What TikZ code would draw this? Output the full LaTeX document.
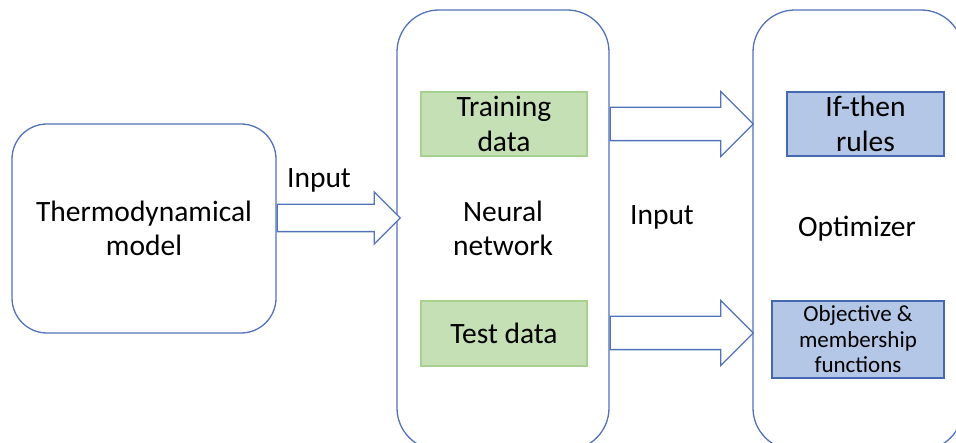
\documentclass[tikz,border=0pt]{standalone}
\usepackage{fontspec}
\setmainfont{Carlito}
\usetikzlibrary{shapes.arrows}
\definecolor{edgeblue}{RGB}{82,114,186}
\definecolor{greenfill}{HTML}{C5E0B4}
\definecolor{greenedge}{HTML}{A9D18E}
\definecolor{bluefill}{HTML}{B4C7E7}
\definecolor{blueedge}{RGB}{70,104,176}
\tikzset{
  bigbox/.style={draw=edgeblue, line width=1.3pt, fill=white, align=center,
    inner sep=0pt, font=\fontsize{29.5}{34}\selectfont},
  greenbox/.style={draw=greenedge, line width=1.2pt, fill=greenfill, align=center,
    inner sep=0pt, font=\fontsize{29.5}{35}\selectfont},
  bluebox/.style={draw=blueedge, line width=1.2pt, fill=bluefill, align=center,
    inner sep=0pt},
  label/.style={inner sep=0pt, align=center, font=\fontsize{29.5}{34}\selectfont},
  blockarrow/.style={single arrow, draw=edgeblue, line width=1.3pt, fill=white,
    inner xsep=0pt, single arrow tip angle=90, anchor=tail},
}
\begin{document}
\begin{tikzpicture}[x=1pt, y=-1pt]
  \useasboundingbox (0,0) rectangle (956,443);
  \clip (0,0) rectangle (956,443);

  % main stages
  \node[bigbox, minimum width=264pt, minimum height=209pt, rounded corners=35pt]
    (thermo) at (144,228.5) {Thermodynamical\\model};
  \node[bigbox, minimum width=212pt, minimum height=440pt, rounded corners=42pt]
    (nn) at (503,230) {};
  \node[bigbox, minimum width=210pt, minimum height=440pt, rounded corners=42pt]
    (opt) at (858,230) {};

  % inner data blocks
  \node[greenbox, minimum width=166pt, minimum height=64pt] (train) at (504,124) {Training\\data};
  \node[greenbox, minimum width=166pt, minimum height=65pt] (test) at (504,333.5) {Test data};
  \node[bluebox, minimum width=157pt, minimum height=64pt, font=\fontsize{29.5}{35}\selectfont]
    (rules) at (865.5,124) {If-then\\rules};
  \node[bluebox, minimum width=172pt, minimum height=77pt, font=\fontsize{23}{25.5}\selectfont]
    (obj) at (858,339.5) {Objective \&\\membership\\functions};

  % stage captions
  \node[label] (nnlabel) at (503,228) {Neural\\network};
  \node[label] (optlabel) at (857,229) {Optimizer};
  \node[label] (in1) at (319,180) {Input};
  \node[label] (in2) at (662,217) {Input};

  % block arrows between the stages
  \node[blockarrow, inner ysep=13pt, minimum height=123pt, minimum width=51pt,
    single arrow head extend=12.5pt] (a1) at (thermo.east |- 0,218) {};
  \node[blockarrow, inner ysep=16pt, minimum height=143pt, minimum width=64pt,
    single arrow head extend=16pt] (a2) at (nn.east |- train.center) {};
  \node[blockarrow, inner ysep=16pt, minimum height=143pt, minimum width=64pt,
    single arrow head extend=16pt] (a3) at (nn.east |- 0,333) {};
\end{tikzpicture}
\end{document}
